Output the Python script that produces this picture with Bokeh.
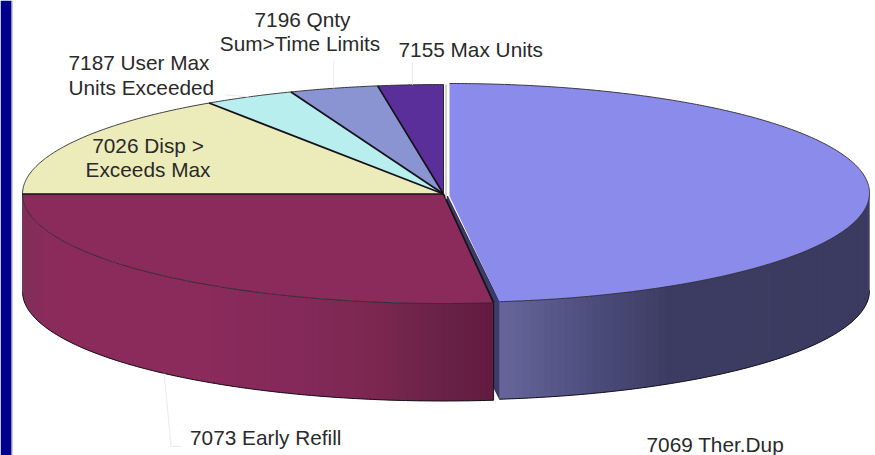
import math
from bokeh.plotting import figure
from bokeh.models import Range1d
from bokeh.core.properties import value
from bokeh.embed import file_html
from bokeh.resources import INLINE

# ---- data (share of each slice, clockwise from 12 o'clock) ----
categories = ["7069 Ther.Dup", "7073 Early Refill", "7026 Disp > Exceeds Max",
              "7187 User Max Units Exceeded", "7196 Qnty Sum>Time Limits", "7155 Max Units"]
shares = [48.1, 26.9, 15.6, 3.5, 3.4, 2.5]
top_colors = ["#8b8bec", "#8b2b5b", "#ececbb", "#b9eeee", "#8a94d2", "#5a2f99"]

# ---- label text lines: (text, x, y, align) ----
label_text = ["7196 Qnty", "Sum>Time Limits", "7187 User Max", "Units Exceeded",
              "7155 Max Units", "7026 Disp >", "Exceeds Max", "7073 Early Refill", "7069 Ther.Dup"]
label_x = [302, 299.5, 68, 68, 398, 147.5, 147.5, 189.5, 646]
label_y = [19, 43, 62, 87, 49, 145, 169, 437, 444]
label_align = ["center", "center", "left", "left", "left", "center", "center", "left", "left"]

# ---- pie geometry ----
CX, CY, A, B, DEPTH = 443.0, 193.5, 421.0, 109.5, 97.5
BLUE_CX, BLUE_CY, BLUE_A, BLUE_B = 449.0, 192.5, 420.0, 109.5

total = sum(shares)
edges = [0.0]
for s in shares:
    edges.append(edges[-1] + s / total * 360.0)


def pt(t, cx=CX, cy=CY, a=A, b=B, dz=0.0):
    r = math.radians(t)
    return cx + a * math.sin(r), cy - b * math.cos(r) + dz


def arc(t0, t1, **kw):
    n = max(2, int(abs(t1 - t0) * 2))
    return [pt(t0 + (t1 - t0) * i / n, **kw) for i in range(n + 1)]


def mix(stops, x):
    if x <= stops[0][0]:
        return stops[0][1]
    for (x0, c0), (x1, c1) in zip(stops, stops[1:]):
        if x <= x1:
            f = (x - x0) / (x1 - x0)
            rgb = [int(c0[i:i + 2], 16) * (1 - f) + int(c1[i:i + 2], 16) * f for i in (1, 3, 5)]
            return "#%02x%02x%02x" % tuple(int(round(v)) for v in rgb)
    return stops[-1][1]


BLUE_STOPS = [(498, "#66669c"), (600, "#4b4b7a"), (670, "#3c3c62"), (869, "#3b3b61")]
RED_STOPS = [(22, "#80305a"), (45, "#8b2b5b"), (180, "#8b2b5b"), (300, "#84295a"),
             (380, "#7a274f"), (440, "#6a2248"), (492, "#621c3f")]
EDGE = "#15101a"

p = figure(width=875, height=455, x_range=Range1d(0, 875), y_range=Range1d(455, 0),
           output_backend="svg", toolbar_location=None, min_border=0,
           background_fill_color="white", border_fill_color="white", outline_line_color=None)
p.axis.visible = False
p.grid.visible = False

# slide background edge
p.quad(left=[0], right=[11], top=[0], bottom=[455], fill_color="#00008e", line_color=None)
p.quad(left=[11], right=[12], top=[0], bottom=[455], fill_color="#9a9aa8", line_color=None)


def draw_side(t0, t1, stops, **geo):
    """Shaded rim; strips overlap their successor so no seams show."""
    dz = DEPTH
    xs, ys, cs = [], [], []
    step = 1.0
    left_to_right = pt(t0, **geo)[0] < pt(t1, **geo)[0]
    ts = []
    t = t0
    while t < t1 - 1e-9:
        ts.append((t, min(t + step, t1)))
        t += step
    if left_to_right:
        ts = ts[::-1]
        spans = [(max(a - step, t0), b) for a, b in ts]
    else:
        spans = [(a, min(b + step, t1)) for a, b in ts]
    for (a, b), (ca, cb) in zip(spans, ts):
        a0, a1 = pt(a, **geo), pt(b, **geo)
        b0, b1 = pt(a, dz=dz, **geo), pt(b, dz=dz, **geo)
        xs.append([a0[0], a1[0], b1[0], b0[0]])
        ys.append([a0[1], a1[1], b1[1], b0[1]])
        cs.append(mix(stops, (pt(ca, **geo)[0] + pt(cb, **geo)[0]) / 2))
    p.patches(xs, ys, fill_color=cs, line_color=None)
    bottom = arc(t0, t1, dz=dz, **geo)
    p.line([q[0] for q in bottom], [q[1] for q in bottom], line_color=EDGE, line_width=1)


def wedge(t0, t1, color, apex=(CX, CY), lw=1.0, **geo):
    pts = [apex] + arc(t0, t1, **geo)
    p.patch([q[0] for q in pts], [q[1] for q in pts], fill_color=color, line_color=None)
    rim = arc(t0, t1, **geo)
    p.line([q[0] for q in rim], [q[1] for q in rim], line_color="#2a2a30", line_width=0.9)


def spoke(t, apex=(CX, CY), lw=1.7, color=EDGE, **geo):
    q = pt(t, **geo)
    p.line([apex[0], q[0]], [apex[1], q[1]], line_color=color, line_width=lw)


blue_geo = dict(cx=BLUE_CX, cy=BLUE_CY, a=BLUE_A, b=BLUE_B)

# cut face of the pulled-out slice (mostly hidden by the neighbour)
e = pt(edges[1], **blue_geo)
apex_b = (BLUE_CX - 2, BLUE_CY + 3)
p.patch([apex_b[0], e[0], e[0], apex_b[0]],
        [apex_b[1], e[1], e[1] + DEPTH, apex_b[1] + DEPTH],
        fill_color="#3c3c6a", line_color=EDGE, line_width=0.7)

# blue slice
draw_side(90, edges[1], BLUE_STOPS, **blue_geo)
wedge(0, edges[1], top_colors[0], apex=(BLUE_CX, BLUE_CY + 3), **blue_geo)

# red slice sides, then top faces of the remaining slices
draw_side(edges[1], 270, RED_STOPS)
r = pt(edges[1])
p.line([r[0], r[0]], [r[1], r[1] + DEPTH], line_color=EDGE, line_width=1)
lft = pt(270)
p.line([lft[0], lft[0]], [lft[1], lft[1] + DEPTH], line_color="#5a3a50", line_width=0.8)
for i in range(1, len(shares)):
    wedge(edges[i], edges[i + 1], top_colors[i])
for i in range(1, len(shares)):
    spoke(edges[i])
spoke(edges[6], lw=1.0, color="#2a2a30")

# pale gap line beside the last slice
g = pt(360)
p.line([g[0] + 2.5, g[0] + 2.5], [g[1], CY + 5], line_color="#a8a8a8", line_width=1)

# leader lines: from the rim at each slice's mid-angle to its label
mids = [(edges[i] + edges[i + 1]) / 2 for i in range(len(shares))]
LEAD = "#ebebeb"
m = pt(mids[1], dz=DEPTH)
p.line([m[0], m[0] + 7, m[0] + 17], [m[1], 446, 446], line_color=LEAD, line_width=1)
m = pt(mids[3])
p.line([m[0], m[0] - 24], [m[1], m[1] - 2], line_color=LEAD, line_width=1)
m = pt(mids[4])
p.line([m[0], m[0]], [m[1], 60], line_color=LEAD, line_width=1)
m = pt(mids[5])
p.line([m[0] + 2, m[0] + 2], [m[1], 62], line_color=LEAD, line_width=1)

# labels
for txt, x, y, al in zip(label_text, label_x, label_y, label_align):
    p.text([x], [y], text=[txt], text_font=value("Liberation Sans"), text_font_size="20.8px",
           text_color="#2a2a2a", text_align=al, text_baseline="alphabetic")

open("out.html", "w").write(file_html(p, INLINE))
